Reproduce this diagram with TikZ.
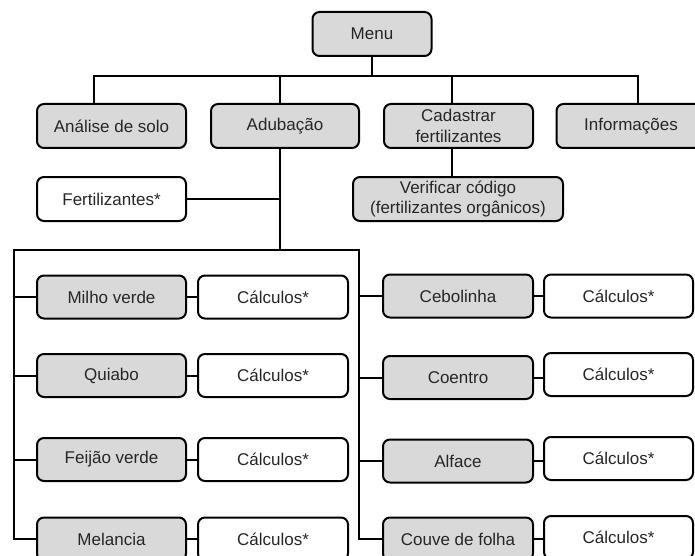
\documentclass[tikz,border=0pt]{standalone}
\usepackage{fontspec}
\setmainfont{Liberation Sans}
\begin{document}
\begin{tikzpicture}[x=1pt,y=-1pt,
  box/.style={draw=black,line width=2pt,rounded corners=7pt,inner sep=0pt,
    minimum height=43pt,align=center,text=black!85,
    font=\fontsize{17}{20.5}\selectfont},
  gbox/.style={box,fill=black!15},
  wbox/.style={box,fill=white},
  conn/.style={line width=2pt,line cap=rect}]
\useasboundingbox (0,0) rectangle (695,556);
\clip (0,0) rectangle (695,556);
\fill[white] (0,0) rectangle (695,556);
% top level
\node[gbox,minimum width=119pt,minimum height=44pt] (menu) at (372,34) {Menu};
\node[gbox,minimum width=149pt,minimum height=44pt] (analise) at (111.5,126) {Análise de solo};
\node[gbox,minimum width=148pt,minimum height=44pt] (adub) at (285,126) {Adubação};
\node[gbox,minimum width=149pt,minimum height=44pt] (cad) at (458.5,126) {Cadastrar\\fertilizantes};
\node[gbox,minimum width=149pt,minimum height=44pt] (info) at (631,126) {Informações};
\node[gbox,minimum width=210pt,minimum height=44pt] (verif) at (458,199) {Verificar código\\(fertilizantes orgânicos)};
\node[wbox,minimum width=149pt,minimum height=44pt] (fert) at (111.5,199) {Fertilizantes*};
% left column
\node[gbox,minimum width=149pt] (milho) at (111.5,297) {Milho verde};
\node[wbox,minimum width=150pt] (c1) at (273,297) {Cálculos*};
\node[gbox,minimum width=149pt] (quiabo) at (111.5,375.5) {Quiabo};
\node[wbox,minimum width=150pt] (c2) at (273,375.5) {Cálculos*};
\node[gbox,minimum width=149pt] (feijao) at (111.5,459.5) {Feijão verde};
\node[wbox,minimum width=150pt] (c3) at (273,459.5) {Cálculos*};
\node[gbox,minimum width=149pt] (mel) at (111.5,539) {Melancia};
\node[wbox,minimum width=150pt] (c4) at (273,539) {Cálculos*};
% right column
\node[gbox,minimum width=150pt] (ceb) at (458,296) {Cebolinha};
\node[wbox,minimum width=149pt] (c5) at (618.5,296) {Cálculos*};
\node[gbox,minimum width=150pt] (coe) at (458,377.5) {Coentro};
\node[wbox,minimum width=149pt] (c6) at (618.5,374.5) {Cálculos*};
\node[gbox,minimum width=150pt] (alf) at (458,461) {Alface};
\node[wbox,minimum width=149pt] (c7) at (618.5,458.5) {Cálculos*};
\node[gbox,minimum width=150pt] (couve) at (458,539) {Couve de folha};
\node[wbox,minimum width=149pt] (c8) at (618.5,537.5) {Cálculos*};
% bus coordinates
\coordinate (busL) at (94,76);
\coordinate (busR) at (638,76);
\coordinate (jAd) at (280,76);
\coordinate (jCa) at (452,76);
\coordinate (trunk) at (280,250);
\coordinate (lb) at (14,250);
\coordinate (rb) at (359,250);
% connectors
\draw[conn] (menu.south) -- (menu.south |- busL);
\draw[conn] (busL) -- (busR);
\draw[conn] (busL) -- (busL |- analise.north);
\draw[conn] (jAd) -- (jAd |- adub.north);
\draw[conn] (jCa) -- (jCa |- cad.north);
\draw[conn] (busR) -- (busR |- info.north);
\draw[conn] (jCa |- cad.south) -- (jCa |- verif.north);
\draw[conn] (trunk |- adub.south) -- (trunk);
\draw[conn] (fert.east) -- (fert.east -| trunk);
\draw[conn] (lb) -- (rb);
\draw[conn] (lb) -- (lb |- mel.west) -- (mel.west);
\draw[conn] (rb) -- (rb |- couve.west) -- (couve.west);
\foreach \n in {milho,quiabo,feijao}{\draw[conn] (lb |- \n.west) -- (\n.west);}
\foreach \n in {ceb,coe,alf}{\draw[conn] (rb |- \n.west) -- (\n.west);}
\foreach \a/\b in {milho/c1,quiabo/c2,feijao/c3,mel/c4,ceb/c5,coe/c6,alf/c7,couve/c8}{\draw[conn] (\a.east) -- (\a.east -| \b.west);}
\end{tikzpicture}
\end{document}
